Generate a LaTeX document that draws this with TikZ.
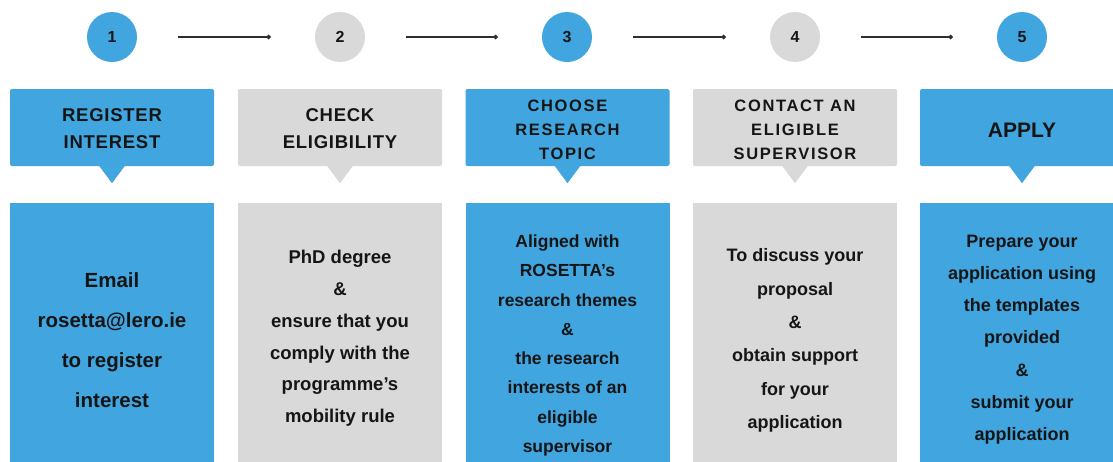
\documentclass[tikz,border=0pt]{standalone}
\usepackage{fontspec}
\setmainfont{Liberation Sans}
\newfontfamily\headfont[LetterSpace=4]{Liberation Sans}
\newfontfamily\headfontwide[LetterSpace=10]{Liberation Sans}
\usetikzlibrary{arrows.meta}
\definecolor{rblue}{HTML}{41A5DF}
\definecolor{rgray}{HTML}{D9D9D9}
\definecolor{rtext}{HTML}{151515}
\definecolor{rline}{HTML}{2E2E2E}
\tikzset{
  numcirc/.style={circle, minimum size=50pt, inner sep=0pt, text=rtext, font=\fontsize{16}{18}\selectfont\bfseries},
  headbox/.style={rectangle, rounded corners=2pt, minimum width=204pt, minimum height=77pt, inner sep=0pt},
  bodybox/.style={rectangle, minimum width=204pt, minimum height=272pt, inner sep=0pt, anchor=north},
  headtxt/.style={align=center, text=rtext, inner sep=0pt},
  bodytxt/.style={align=center, text=rtext, inner sep=0pt},
  flow/.style={draw=rline, line width=1.2pt, -{Circle[length=4.5pt]}, shorten <=41pt, shorten >=44pt},
}
\begin{document}
\begin{tikzpicture}[x=1pt,y=-1pt]
\useasboundingbox (0,0) rectangle (1113,461);
\clip (0,0) rectangle (1113,461);
% circles
\node[numcirc, fill=rblue] (c1) at (112,37) {1};
\node[numcirc, fill=rgray] (c2) at (340,37) {2};
\node[numcirc, fill=rblue] (c3) at (567,37) {3};
\node[numcirc, fill=rgray] (c4) at (795,37) {4};
\node[numcirc, fill=rblue] (c5) at (1022,37) {5};
\draw[flow] (c1) -- (c2);
\draw[flow] (c2) -- (c3);
\draw[flow] (c3) -- (c4);
\draw[flow] (c4) -- (c5);
% header boxes
\node[headbox, fill=rblue] (h1) at (112,127.5) {};
\node[headbox, fill=rgray] (h2) at (340,127.5) {};
\node[headbox, fill=rblue] (h3) at (567.5,127.5) {};
\node[headbox, fill=rgray] (h4) at (795,127.5) {};
\node[headbox, fill=rblue] (h5) at (1022,127.5) {};
\foreach \n/\c in {h1/rblue,h2/rgray,h3/rblue,h4/rgray,h5/rblue}{
  \fill[\c] ([xshift=-13pt,yshift=0.5pt]\n.south) -- ([xshift=13pt,yshift=0.5pt]\n.south) -- ([yshift=-17pt]\n.south) -- cycle;
}
% header texts
\node[headtxt, font=\headfont\fontsize{18.5}{27}\selectfont\bfseries] (t1) at (112,129) {REGISTER\\INTEREST};
\node[headtxt, font=\headfont\fontsize{18.5}{27}\selectfont\bfseries] (t2) at (340,129) {CHECK\\ELIGIBILITY};
\node[headtxt, font=\headfontwide\fontsize{16.5}{24}\selectfont\bfseries] (t3) at (567.5,129.5) {CHOOSE\\RESEARCH\\TOPIC};
\node[headtxt, font=\headfontwide\fontsize{16.5}{24}\selectfont\bfseries] (t4) at (795,129.5) {CONTACT AN\\ELIGIBLE\\SUPERVISOR};
\node[headtxt, font=\fontsize{21}{24}\selectfont\bfseries] (t5) at (1022,130) {APPLY};
% body boxes
\node[bodybox, fill=rblue] (b1) at (112,203) {};
\node[bodybox, fill=rgray] (b2) at (340,203) {};
\node[bodybox, fill=rblue] (b3) at (567.5,203) {};
\node[bodybox, fill=rgray] (b4) at (795,203) {};
\node[bodybox, fill=rblue] (b5) at (1022,203) {};
% body texts
\node[bodytxt, font=\fontsize{20.5}{40}\selectfont\bfseries] (d1) at (112,340.5) {Email\\rosetta@lero.ie\\to register\\interest};
\node[bodytxt, font=\fontsize{18.5}{31.8}\selectfont\bfseries] (d2) at (340,338.5) {PhD degree\\\&\\ensure that you\\comply with the\\programme’s\\mobility rule};
\node[bodytxt, font=\fontsize{17.5}{29.3}\selectfont\bfseries] (d3) at (567.5,345.5) {Aligned with\\ROSETTA’s\\research themes\\\&\\the research\\interests of an\\eligible\\supervisor};
\node[bodytxt, font=\fontsize{18}{33.4}\selectfont\bfseries] (d4) at (795,340.5) {To discuss your\\proposal\\\&\\obtain support\\for your\\application};
\node[bodytxt, font=\fontsize{18}{32.2}\selectfont\bfseries] (d5) at (1022,339.5) {Prepare your\\application using\\the templates\\provided\\\&\\submit your\\application};
\end{tikzpicture}
\end{document}
